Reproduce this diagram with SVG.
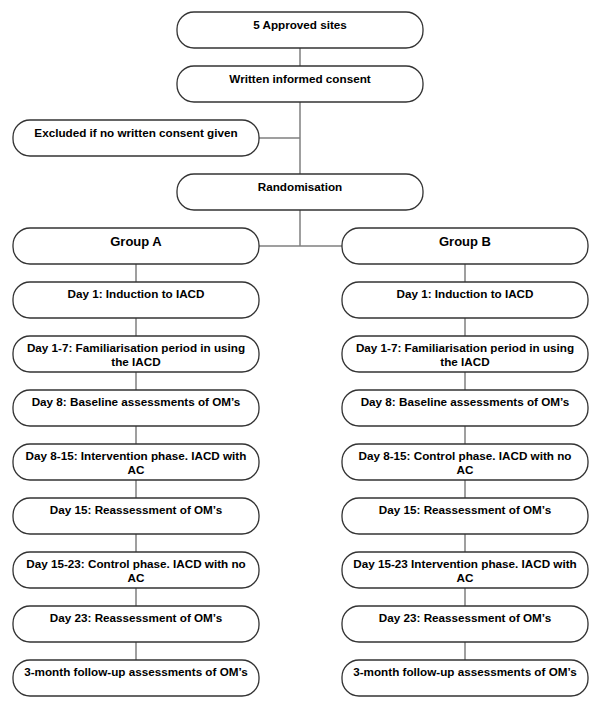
<svg xmlns="http://www.w3.org/2000/svg" width="600" height="705" viewBox="0 0 600 705">
<style>
.box{fill:#fff;stroke:#333;stroke-width:1.3}
.t{font-family:"Liberation Sans",Arial,sans-serif;font-weight:bold;font-size:11.7px;fill:#000;text-anchor:middle}
.g{font-size:13px}
.c{stroke:#808080;stroke-width:1.5;fill:none}
</style>
<rect width="600" height="705" fill="#fff"/>
<g id="connectors">
<path class="c" d="M300 48V66M300 102V174M259 138H300M300 210V246M259 246H342"/>
<path class="c" d="M136 264V282M136 318V336M136 372V390M136 426V444M136 480V498M136 534V552M136 588V606M136 642V660"/>
<path class="c" d="M465 264V282M465 318V336M465 372V390M465 426V444M465 480V498M465 534V552M465 588V606M465 642V660"/>
</g>
<g id="n1"><rect class="box" x="177" y="12" width="246" height="36" rx="17"/><text class="t" x="300" y="29">5 Approved sites</text></g>
<g id="n2"><rect class="box" x="177" y="66" width="246" height="36" rx="17"/><text class="t" x="300" y="83">Written informed consent</text></g>
<g id="n3"><rect class="box" x="13" y="120" width="246" height="36" rx="17"/><text class="t" x="136" y="137">Excluded if no written consent given</text></g>
<g id="n4"><rect class="box" x="177" y="174" width="246" height="36" rx="17"/><text class="t" x="300" y="191">Randomisation</text></g>
<g id="a0"><rect class="box" x="13" y="228" width="246" height="36" rx="17"/><text class="t g" x="136" y="246">Group A</text></g>
<g id="b0"><rect class="box" x="342" y="228" width="246" height="36" rx="17"/><text class="t g" x="465" y="246">Group B</text></g>
<g id="a1"><rect class="box" x="13" y="282" width="246" height="36" rx="17"/><text class="t" x="136" y="298">Day 1: Induction to IACD</text></g>
<g id="b1"><rect class="box" x="342" y="282" width="246" height="36" rx="17"/><text class="t" x="465" y="298">Day 1: Induction to IACD</text></g>
<g id="a2"><rect class="box" x="13" y="336" width="246" height="36" rx="17"/><text class="t" x="136" y="352">Day 1-7: Familiarisation period in using</text><text class="t" x="136" y="366">the IACD</text></g>
<g id="b2"><rect class="box" x="342" y="336" width="246" height="36" rx="17"/><text class="t" x="465" y="352">Day 1-7: Familiarisation period in using</text><text class="t" x="465" y="366">the IACD</text></g>
<g id="a3"><rect class="box" x="13" y="390" width="246" height="36" rx="17"/><text class="t" x="136" y="406">Day 8: Baseline assessments of OM’s</text></g>
<g id="b3"><rect class="box" x="342" y="390" width="246" height="36" rx="17"/><text class="t" x="465" y="406">Day 8: Baseline assessments of OM’s</text></g>
<g id="a4"><rect class="box" x="13" y="444" width="246" height="36" rx="17"/><text class="t" x="136" y="460">Day 8-15: Intervention phase. IACD with</text><text class="t" x="136" y="474">AC</text></g>
<g id="b4"><rect class="box" x="342" y="444" width="246" height="36" rx="17"/><text class="t" x="465" y="460">Day 8-15: Control phase. IACD with no</text><text class="t" x="465" y="474">AC</text></g>
<g id="a5"><rect class="box" x="13" y="498" width="246" height="36" rx="17"/><text class="t" x="136" y="514">Day 15: Reassessment of OM’s</text></g>
<g id="b5"><rect class="box" x="342" y="498" width="246" height="36" rx="17"/><text class="t" x="465" y="514">Day 15: Reassessment of OM’s</text></g>
<g id="a6"><rect class="box" x="13" y="552" width="246" height="36" rx="17"/><text class="t" x="136" y="568">Day 15-23: Control phase. IACD with no</text><text class="t" x="136" y="582">AC</text></g>
<g id="b6"><rect class="box" x="342" y="552" width="246" height="36" rx="17"/><text class="t" x="465" y="568">Day 15-23 Intervention phase. IACD with</text><text class="t" x="465" y="582">AC</text></g>
<g id="a7"><rect class="box" x="13" y="606" width="246" height="36" rx="17"/><text class="t" x="136" y="622">Day 23: Reassessment of OM’s</text></g>
<g id="b7"><rect class="box" x="342" y="606" width="246" height="36" rx="17"/><text class="t" x="465" y="622">Day 23: Reassessment of OM’s</text></g>
<g id="a8"><rect class="box" x="13" y="660" width="246" height="36" rx="17"/><text class="t" x="136" y="676">3-month follow-up assessments of OM’s</text></g>
<g id="b8"><rect class="box" x="342" y="660" width="246" height="36" rx="17"/><text class="t" x="465" y="676">3-month follow-up assessments of OM’s</text></g>
</svg>
